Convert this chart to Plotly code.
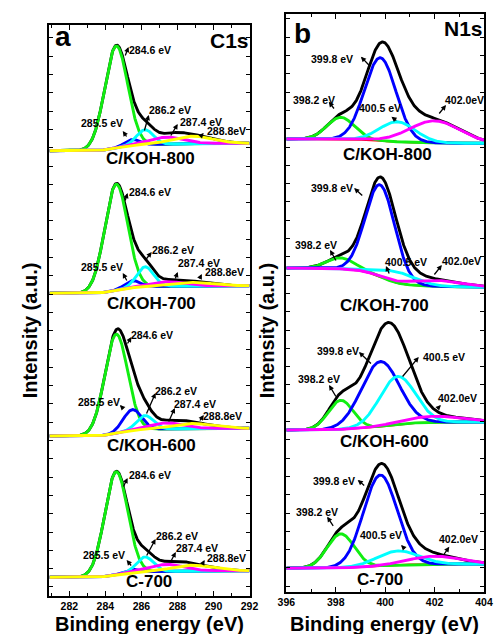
import numpy as np
import plotly.graph_objects as go

FIG_W, FIG_H = 501, 634
FONT = "Liberation Sans, Arial, sans-serif"

# ---------------- data: C1s panel (a) ----------------
C1S_SAMPLES = ["C/KOH-800", "C/KOH-700", "C/KOH-600", "C-700"]
C1S_CENTERS = [284.6, 285.5, 286.2, 287.4, 288.8]
C1S_PEAK_LABELS = ["284.6 eV", "285.5 eV", "286.2 eV", "287.4 eV", "288.8eV"]
C1S_HEIGHTS = [
    [102, 6, 15, 7, 7.5],
    [106, 7, 20, 4.5, 3.5],
    [99, 21, 14, 6, 5],
    [103, 3, 15, 7, 5.7],
]
C1S_FWHM = [
    [1.5, 1.0, 1.1, 2.2, 2.6],
    [1.5, 1.0, 1.1, 2.2, 2.6],
    [1.5, 1.2, 1.1, 2.2, 2.6],
    [1.5, 1.0, 1.1, 2.2, 2.6],
]
C1S_BG_LOW = [445.0, 302.4, 159.7, 18.4]     # background at low binding energy
C1S_BG_HIGH = [452.4, 310.0, 167.4, 25.0]    # background at high binding energy
C1S_XTICKS = [282, 284, 286, 288, 290, 292]

# ---------------- data: N1s panel (b) ----------------
N1S_SAMPLES = ["C/KOH-800", "C/KOH-700", "C/KOH-600", "C-700"]
N1S_CENTERS = [398.2, 399.8, 400.5, 402.0]
N1S_PEAK_LABELS = ["398.2 eV", "399.8 eV", "400.5 eV", "402.0eV"]
N1S_HEIGHTS = [
    [22, 83, 20, 22],
    [11, 92, 11, 6],
    [29, 65, 48, 6],
    [34, 91, 14, 8],
]
N1S_FWHM = [
    [1.3, 1.5, 1.7, 2.4],
    [1.3, 1.4, 1.8, 2.4],
    [1.2, 1.8, 1.7, 2.8],
    [1.3, 1.6, 2.0, 2.4],
]
N1S_BG_LOW = [452.5, 323.5, 161.5, 23.2]
N1S_BG_HIGH = [448.2, 304.5, 169.5, 27.5]
N1S_XTICKS = [396, 398, 400, 402, 404]

# ---------------- styling / layout (pixels of the page) ----------------
C1S_COLORS = ["#11ee11", "#0000ff", "#00ffff", "#ff00ff", "#ffff00"]
N1S_COLORS = ["#11ee11", "#0000ff", "#00ffff", "#ff00ff"]

PA = dict(L=42.0, R=249.5, T=25.0, B=595.7, X0=280.9, X1=292.0)
PB = dict(L=287.7, R=492.7, T=14.0, B=591.5, X0=396.0, X1=404.0)

def to_data(P, px, py):
    x = P["X0"] + (px - P["L"]) * (P["X1"] - P["X0"]) / (P["R"] - P["L"])
    return x, P["B"] - py

# label positions (page px) : per sample, per peak
A_LABEL_POS = [
    [(146, 50.3), (96.5, 123), (166.5, 110), (199.5, 122.5), (226, 131)],
    [(146.5, 191.7), (96.5, 267), (170.5, 249.5), (197.5, 263), (224, 272)],
    [(148.3, 334.5), (93.8, 401.8), (173.3, 390.8), (193.3, 404), (221.7, 415.8)],
    [(146.5, 475), (98.5, 555), (174.5, 536), (195.5, 547.5), (226, 558.3)],
]
A_ARROWS = [  # (tail x, tail y, head x, head y)
    [(120, 57, 124, 47), (123, 138, 118, 131), (140, 132, 145, 115), (167, 137, 175, 124), (198, 137, 202, 133)],
    [(120, 202, 123, 193), (123, 282, 118, 273), (140, 262, 148, 252), (172, 280, 175, 272), (197, 280, 200, 274)],
    [(122, 345, 127, 337), (120, 410, 115, 405), (142, 415, 152, 393), (165, 423, 172, 408), (197, 422, 202, 415)],
    [(118, 488, 123, 478), (128, 567, 122, 560), (142, 557, 152, 539), (167, 563, 173, 552), (200, 565, 203, 560)],
]
A_SAMPLE_POS = [(147, 158.3), (148, 303.3), (148, 445), (145, 581.7)]

B_LABEL_POS = [
    [(316.5, 100), (335, 59), (384.5, 108.3), (472, 100)],
    [(318, 245), (335, 188.5), (412, 262), (469, 261)],
    [(321.7, 379), (340.8, 351), (450.8, 356.7), (465, 397.5)],
    [(319.2, 511.8), (336.7, 480.8), (385.8, 535), (466.7, 538.5)],
]
B_ARROWS = [
    [(338.3, 110, 331.7, 101.7), (375, 66.7, 365, 56.7), (403.3, 121.7, 396.7, 116.7), (445, 115, 453.3, 105)],
    [(340, 262, 333, 250), (368, 197, 358, 188), (395, 275, 391, 266), (440, 276, 449, 265)],
    [(340, 398, 332, 385), (377, 365, 363, 352), (407, 378, 425, 357), (443, 410, 448, 405)],
    [(337.3, 527.3, 330, 516.7), (370, 486.7, 361.7, 480), (411.7, 550, 406.7, 545), (450, 556, 456.7, 546.7)],
]
B_SAMPLE_POS = [(392.5, 155), (390, 305), (389.3, 441.7), (385, 579)]

fig = go.Figure()

def build_panel(P, xa, ya, centers, heights, fwhms, bg_low, bg_high, colors, draw_bg):
    x = np.linspace(P["X0"], P["X1"], 500)
    for s in range(len(heights)):
        comps = []
        for c, h, w in zip(centers, heights[s], fwhms[s]):
            comps.append(h * np.exp(-4 * np.log(2) * (x - c) ** 2 / w ** 2))
        total = np.sum(comps, axis=0)
        frac = np.cumsum(total) / np.sum(total)
        bg = bg_low[s] + (bg_high[s] - bg_low[s]) * frac
        fig.add_trace(go.Scatter(x=x, y=bg + total, mode="lines",
                                 line=dict(color="black", width=2.9),
                                 xaxis=xa, yaxis=ya, showlegend=False, hoverinfo="skip"))
        if draw_bg:
            fig.add_trace(go.Scatter(x=x, y=bg, mode="lines",
                                     line=dict(color="#ff0000", width=2.0),
                                     xaxis=xa, yaxis=ya, showlegend=False, hoverinfo="skip"))
        for comp, col in zip(comps, colors):
            fig.add_trace(go.Scatter(x=x, y=bg + comp, mode="lines",
                                     line=dict(color=col, width=2.9),
                                     xaxis=xa, yaxis=ya, showlegend=False, hoverinfo="skip"))

build_panel(PA, "x", "y", C1S_CENTERS, C1S_HEIGHTS, C1S_FWHM, C1S_BG_LOW, C1S_BG_HIGH, C1S_COLORS, False)
build_panel(PB, "x2", "y2", N1S_CENTERS, N1S_HEIGHTS, N1S_FWHM, N1S_BG_LOW, N1S_BG_HIGH, N1S_COLORS, True)

ann = []

def add_labels(P, xr, yr, labels, label_pos, arrows, samples, sample_pos):
    for s in range(len(samples)):
        for k, lab in enumerate(labels):
            lx, ly = to_data(P, *label_pos[s][k])
            ann.append(dict(x=lx, y=ly, xref=xr, yref=yr, text=lab, showarrow=False,
                            xanchor="center", yanchor="middle",
                            font=dict(family=FONT, size=10.5, color="black", weight="bold")))
            tx, ty, hx, hy = arrows[s][k]
            tdx, tdy = to_data(P, tx, ty)
            hdx, hdy = to_data(P, hx, hy)
            ann.append(dict(x=hdx, y=hdy, ax=tdx, ay=tdy, xref=xr, yref=yr,
                            axref=xr, ayref=yr, text="", showarrow=True,
                            arrowhead=2, arrowsize=0.8, arrowwidth=1.3,
                            arrowcolor="black", standoff=0, startstandoff=0))
        sx, sy = to_data(P, *sample_pos[s])
        ann.append(dict(x=sx, y=sy, xref=xr, yref=yr, text=samples[s], showarrow=False,
                        xanchor="center", yanchor="middle",
                        font=dict(family=FONT, size=17, color="black", weight="bold")))

add_labels(PA, "x", "y", C1S_PEAK_LABELS, A_LABEL_POS, A_ARROWS, C1S_SAMPLES, A_SAMPLE_POS)
add_labels(PB, "x2", "y2", N1S_PEAK_LABELS, B_LABEL_POS, B_ARROWS, N1S_SAMPLES, B_SAMPLE_POS)

def paper_text(px, py, text, size, angle=0):
    ann.append(dict(x=px / FIG_W, y=1 - py / FIG_H, xref="paper", yref="paper",
                    text=text, showarrow=False, xanchor="center", yanchor="middle",
                    textangle=angle,
                    font=dict(family=FONT, size=size, color="black", weight="bold")))

paper_text(55.5, 37, "a", 28)
paper_text(229, 40, "C1s", 21)
paper_text(304, 33.5, "b", 28)
paper_text(471.7, 28.5, "N1s", 21)
paper_text(22, 330, "Intensity (a.u.)", 20, -90)
paper_text(268, 330, "Intensity (a.u.)", 20, -90)
paper_text(146, 623.5, "Binding energy (eV)", 20)
paper_text(390, 623.5, "Binding energy (eV)", 20)

def xaxis_cfg(P, ticks):
    return dict(domain=[P["L"] / FIG_W, P["R"] / FIG_W], range=[P["X0"], P["X1"]],
                tickvals=ticks, ticks="inside", ticklen=5, tickwidth=1.2, tickcolor="black",
                minor=dict(dtick=1, ticks="inside", ticklen=3, tickcolor="black"),
                showline=True, linecolor="black", linewidth=1.6, mirror="ticks",
                showgrid=False, zeroline=False,
                tickfont=dict(family=FONT, size=10.5, color="black", weight="bold"))

def yaxis_cfg(P, t0):
    return dict(domain=[1 - P["B"] / FIG_H, 1 - P["T"] / FIG_H],
                range=[0, P["B"] - P["T"]],
                tick0=t0, dtick=18.3, ticks="inside", ticklen=4, tickwidth=1.0, tickcolor="black",
                showticklabels=False, showline=True, linecolor="black", linewidth=1.6,
                mirror="ticks", showgrid=False, zeroline=False)

fig.update_layout(
    width=FIG_W, height=FIG_H, autosize=False,
    margin=dict(l=0, r=0, t=0, b=0),
    paper_bgcolor="white", plot_bgcolor="white",
    xaxis=xaxis_cfg(PA, C1S_XTICKS), yaxis=yaxis_cfg(PA, 8.8),
    xaxis2=dict(xaxis_cfg(PB, N1S_XTICKS), anchor="y2"),
    yaxis2=dict(yaxis_cfg(PB, 5.3), anchor="x2"),
    annotations=ann,
)
fig.update_layout(xaxis=dict(anchor="y"), yaxis=dict(anchor="x"))

fig.write_html("out.html", config={"displayModeBar": False},
               post_script="document.body.style.margin='0';document.body.style.overflow='hidden';")
